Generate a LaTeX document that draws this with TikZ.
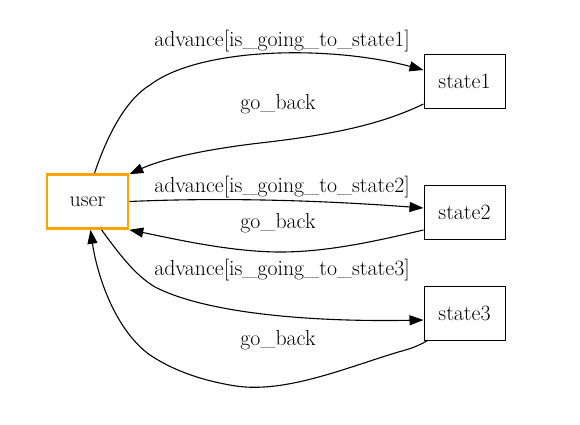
\documentclass[tikz,border=0pt]{standalone}
\usetikzlibrary{arrows.meta}
\definecolor{gvorange}{RGB}{255,165,0}
\tikzset{
  statebox/.style={draw, line width=1pt, minimum width=81pt, minimum height=54pt, inner sep=0pt, font=\rmfamily\fontsize{21.8}{24}\selectfont},
  userbox/.style={statebox, draw=gvorange, line width=2.6pt},
  edge/.style={line width=1.1pt, -{Triangle[length=14pt,width=10pt]}},
  lbl/.style={font=\rmfamily\fontsize{21.8}{24}\selectfont, inner sep=0pt}
}
\begin{document}
\begin{tikzpicture}[x=1pt,y=-1pt]
\useasboundingbox (0,0) rectangle (580,424);
\node[userbox] (user) at (87.5,201.5) {user};
\node[statebox] (s1) at (464.5,81) {state1};
\node[statebox] (s2) at (464.5,212) {state2};
\node[statebox] (s3) at (464.5,313) {state3};
% user -> state1
\draw[edge] ([xshift=7pt]user.north) .. controls (104,145) and (122,102) .. (150,85)
  .. controls (200,47) and (330,45) .. ([yshift=11pt]s1.west);
\node[lbl] (l1) at (282,41) {advance[is\_going\_to\_state1]};
% state1 -> user
\draw[edge] ([yshift=-23pt]s1.west) .. controls (380,125) and (330,135) .. (260,143)
  .. controls (200,150) and (160,160) .. ([yshift=-1pt]user.north east);
\node[lbl] (l2) at (278,104) {go\_back};
% user -> state2
\draw[edge] (user.east) .. controls (230,197) and (330,201) .. ([yshift=4pt]s2.west);
\node[lbl] (l3) at (282,187) {advance[is\_going\_to\_state2]};
% state2 -> user
\draw[edge] ([yshift=-18pt]s2.west) .. controls (380,240) and (330,252) .. (280,252)
  .. controls (230,252) and (170,238) .. (user.south east);
\node[lbl] (l4) at (278,223) {go\_back};
% user -> state3
\draw[edge] ([xshift=14pt]user.south) .. controls (120,255) and (135,275) .. (155,287)
  .. controls (210,315) and (320,322) .. ([yshift=-7pt]s3.west);
\node[lbl] (l5) at (282,270) {advance[is\_going\_to\_state3]};
% state3 -> user
\draw[edge] ([xshift=4pt]s3.south west) .. controls (415,348) and (405,350) .. (395,353)
  .. controls (340,370) and (280,395) .. (230,385)
  .. controls (190,378) and (165,365) .. (150,355)
  .. controls (115,330) and (97,275) .. ([xshift=3pt]user.south);
\node[lbl] (l6) at (278,340) {go\_back};
\end{tikzpicture}
\end{document}
